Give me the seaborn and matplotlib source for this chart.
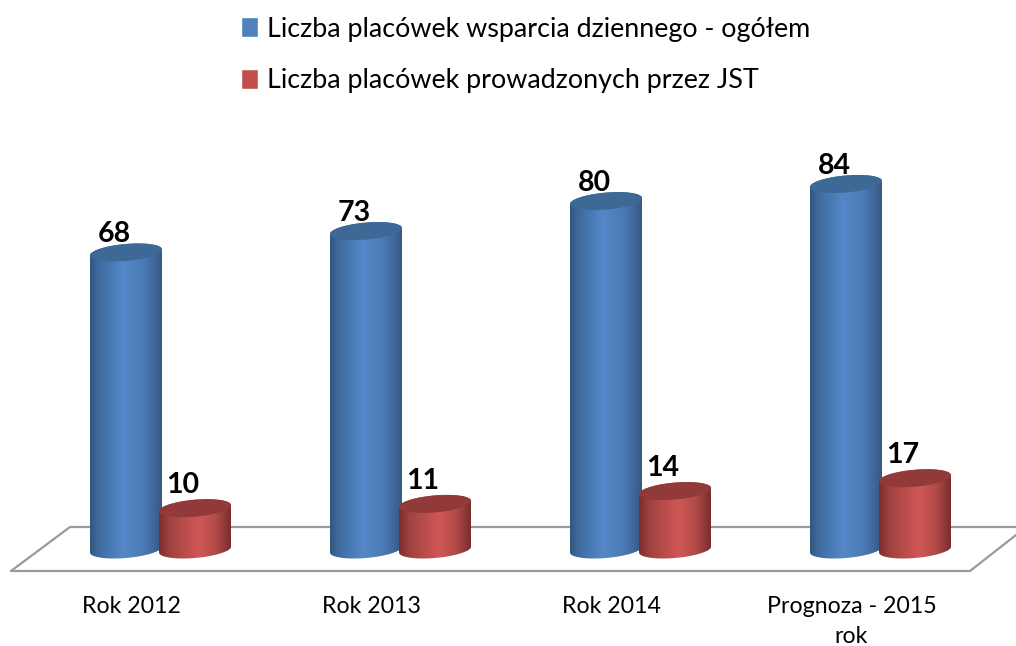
import numpy as np
import pandas as pd
import matplotlib
matplotlib.use("Agg")
import matplotlib.pyplot as plt
from matplotlib.colors import LinearSegmentedColormap
from matplotlib.lines import Line2D
from matplotlib.patches import Polygon
import seaborn as sns

categories = ["Rok 2012", "Rok 2013", "Rok 2014", "Prognoza - 2015\nrok"]
series_names = ["Liczba placówek wsparcia dziennego - ogółem", "Liczba placówek prowadzonych przez JST"]
total_values = [68, 73, 80, 84]
jst_values = [10, 11, 14, 17]

W, H = 1016, 646
FLOOR_Y = 571
PX = 4.28  # pixels per unit
ZERO_Y = 551

sns.set_theme(style="white")
plt.rcParams['font.family'] = ['Lato', 'DejaVu Sans']

pdf = pd.DataFrame({
    "cat": categories * 2,
    "val": total_values + jst_values,
    "series": [series_names[0]] * 4 + [series_names[1]] * 4,
})

fig = plt.figure(figsize=(W / 100, H / 100), dpi=100)
ax = fig.add_axes([0, (H - FLOOR_Y) / H, 1, FLOOR_Y / H])

colors = ["#4F81BD", "#C0504D"]
sns.barplot(data=pdf, x="cat", y="val", hue="series", hue_order=series_names,
            palette=colors, saturation=1, width=0.6, ax=ax, zorder=3)

ax.set_xlim(-160.5 / 240, (W - 160.5) / 240)
ax.set_ylim(-(FLOOR_Y - ZERO_Y) / PX, ZERO_Y / PX)

blue_map = LinearSegmentedColormap.from_list("b", [(0, "#35587F"), (0.12, "#3F6A9E"), (0.45, "#5387C8"), (0.72, "#4C7CB8"), (0.9, "#3E6798"), (1, "#36597F")])
red_map = LinearSegmentedColormap.from_list("r", [(0, "#7A2E2C"), (0.15, "#A04341"), (0.55, "#CF5755"), (0.78, "#B44C4A"), (0.92, "#8E3A38"), (1, "#7A2E2C")])
cap_colors = ["#3E6895", "#923A39"]
grad = np.linspace(0, 1, 200).reshape(1, -1)

# half axis and tilt of the cylinder ends
b = 8.5 / PX
tilt = 3.0 / PX
shift = 1.5 / 240
base_y = 1.5 / PX
top_extra = [7.5 / PX, 0.0]


def end_curve(cx, cy, w, t):
    return cx + w / 2 * np.cos(t), cy + b * np.sin(t) + tilt * np.cos(t)


for i, cont in enumerate(ax.containers):
    for bar in cont:
        w = bar.get_width()
        x0 = bar.get_x() + (shift if i == 0 else -shift)
        bar.set_x(x0)
        cx = x0 + w / 2
        top = bar.get_height() + top_extra[i]
        t1 = np.linspace(np.pi, 2 * np.pi, 60)
        t2 = np.linspace(0, np.pi, 60)
        bx, by = end_curve(cx, base_y, w, t1)
        tx, ty = end_curve(cx, top, w, t2)
        body = Polygon(np.column_stack([np.r_[bx, tx], np.r_[by, ty]]), closed=True,
                       transform=ax.transData, fc="none", ec="none")
        ax.add_patch(body)
        bar.set_clip_path(body)
        im = ax.imshow(grad, extent=[x0, x0 + w, -5, top + 5], aspect="auto",
                       cmap=blue_map if i == 0 else red_map, vmin=0, vmax=1,
                       zorder=3 + i, interpolation="bilinear")
        im.set_clip_path(body)
        t = np.linspace(0, 2 * np.pi, 120)
        ex, ey = end_curve(cx, top, w, t)
        ax.add_patch(Polygon(np.column_stack([ex, ey]), closed=True, fc=cap_colors[i],
                             ec="none", zorder=3.5 + i))
        ax.annotate(f"{int(bar.get_height())}", xy=(cx, top),
                    xytext=(-12 * 0.72, (10 if i == 0 else 15) * 0.72),
                    textcoords="offset points", ha="center", va="baseline",
                    fontsize=20.5, fontweight="bold", color="black", zorder=8)

ax.set_xlim(-160.5 / 240, (W - 160.5) / 240)
ax.set_ylim(-(FLOOR_Y - ZERO_Y) / PX, ZERO_Y / PX)

# floor of the 3D chart
floor_paths = [
    ([11, 70, 1016], [571, 527, 527]),
    ([11, 970, 1016], [571, 571, 535]),
]
for xs, ys in floor_paths:
    ax.add_line(Line2D(np.array(xs) / W, (FLOOR_Y - np.array(ys)) / FLOOR_Y, transform=ax.transAxes,
                       color="#9A9A9A", lw=1.6, clip_on=False, zorder=1))

ax.set_xticks(np.arange(len(categories)) - 29 / 240, categories, fontsize=16.7, color="black", linespacing=1.55)
ax.tick_params(axis="x", length=0, pad=18)
ax.set_yticks([])
ax.set_xlabel("")
ax.set_ylabel("")
sns.despine(ax=ax, left=True, bottom=True)

handles, labels = ax.get_legend_handles_labels()
ax.legend(handles, labels, loc="upper left", bbox_to_anchor=(241 / W, 1 - 16.5 / H),
          bbox_transform=fig.transFigure, frameon=False, fontsize=19.4, borderpad=0,
          borderaxespad=0, handlelength=0.63, handleheight=0.72, handletextpad=0.33,
          labelspacing=1.0, labelcolor="black")

fig.savefig("out.png", dpi=100)
